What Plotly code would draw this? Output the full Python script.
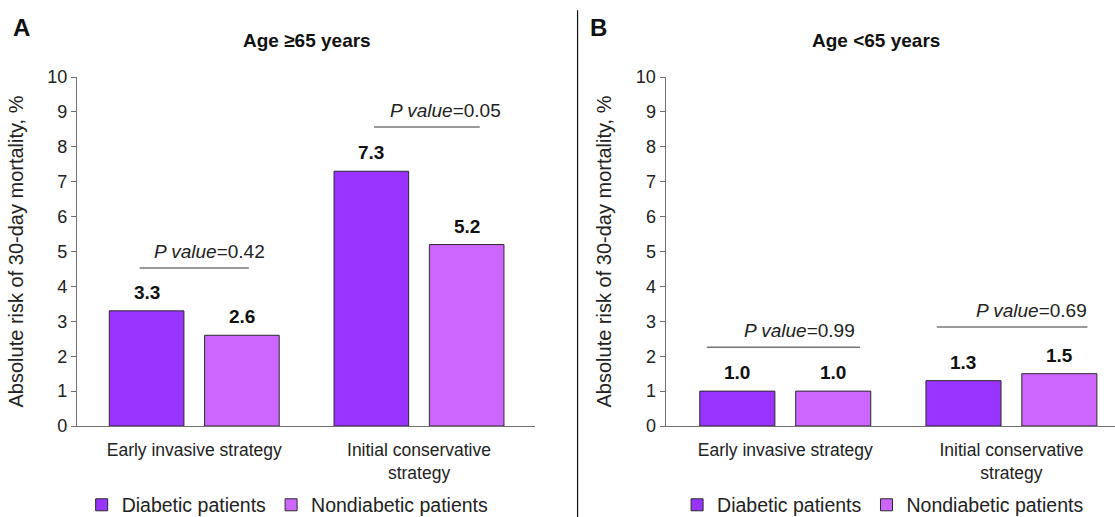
import plotly.graph_objects as go

# Data
categories = ["Early invasive strategy", "Initial conservative<br>strategy"]
series_names = ["Diabetic patients", "Nondiabetic patients"]
age65_plus_diabetic = [3.3, 7.3]
age65_plus_nondiabetic = [2.6, 5.2]
age_under65_diabetic = [1.0, 1.3]
age_under65_nondiabetic = [1.0, 1.5]
p_values_65_plus = ["0.42", "0.05"]
p_values_under65 = ["0.99", "0.69"]
y_ticks = list(range(0, 11))

# Styles
FONT = "Liberation Sans, Arial, sans-serif"
COL_DIAB = "#9933FF"
COL_NONDIAB = "#CC66FF"
EDGE = "#2b2b2b"
AXIS = "#707070"
TXT = "#222"
BAR_W = 0.332
OFF_DIAB = -0.378
OFF_NON = 0.046

fig = go.Figure()

panels = [
    ("", age65_plus_diabetic, age65_plus_nondiabetic, "legend"),
    ("2", age_under65_diabetic, age_under65_nondiabetic, "legend2"),
]
for sfx, diab, nondiab, leg in panels:
    for name, vals, col, off in [
        (series_names[0], diab, COL_DIAB, OFF_DIAB),
        (series_names[1], nondiab, COL_NONDIAB, OFF_NON),
    ]:
        fig.add_trace(go.Bar(
            x=categories, y=vals, name=name, xaxis="x" + sfx, yaxis="y" + sfx,
            width=BAR_W, offset=off,
            marker=dict(color=col, line=dict(color=EDGE, width=1)),
            legend=leg,
        ))
        # value labels above each bar
        for i, v in enumerate(vals):
            fig.add_annotation(
                text=f"<b>{v:.1f}</b>", xref="x" + sfx, yref="y" + sfx,
                x=i + off + BAR_W / 2, y=v, xanchor="center", yanchor="bottom", yshift=6,
                showarrow=False, font=dict(family=FONT, size=19, color="#111"),
            )

yaxis_common = dict(
    range=[0, 10], tickvals=y_ticks, ticks="outside", ticklen=5,
    tickcolor=AXIS, showline=True, linecolor=AXIS, linewidth=1.3,
    showgrid=False, zeroline=False,
    tickfont=dict(family=FONT, size=18, color=TXT),
    title=dict(text="Absolute risk of 30-day mortality, %",
               font=dict(family=FONT, size=20, color=TXT), standoff=18),
)
xaxis_common = dict(
    type="category", showline=True, linecolor=AXIS, linewidth=1.3,
    ticks="", showgrid=False, zeroline=False,
    tickfont=dict(family=FONT, size=17.5, color=TXT),
    ticklabelstandoff=8,
)
legend_common = dict(
    orientation="h", y=0.023, yanchor="middle", xanchor="center",
    font=dict(family=FONT, size=19.5, color=TXT), itemwidth=30,
    bgcolor="rgba(0,0,0,0)",
)

fig.update_layout(
    width=1115, height=517,
    margin=dict(l=0, r=0, t=0, b=0, autoexpand=False),
    paper_bgcolor="white", plot_bgcolor="white",
    showlegend=True,
    xaxis=dict(domain=[0.069, 0.480], range=[-0.522, 1.517], anchor="y", **xaxis_common),
    yaxis=dict(domain=[0.176, 0.851], anchor="x", **yaxis_common),
    xaxis2=dict(domain=[0.597, 1.0], range=[-0.529, 1.458], anchor="y2", **xaxis_common),
    yaxis2=dict(domain=[0.176, 0.851], anchor="x2", **yaxis_common),
    legend=dict(x=0.258, **legend_common),
    legend2=dict(x=0.792, **legend_common),
)

# Panel titles and letters
headers = [
    ("<b>Age ≥65 years</b>", 0.275, 0.922, 19),
    ("<b>Age <65 years</b>", 0.786, 0.922, 19),
    ("<b>A</b>", 0.019, 0.946, 24),
    ("<b>B</b>", 0.537, 0.946, 24),
]
for txt, hx, hy, sz in headers:
    fig.add_annotation(text=txt, x=hx, y=hy, xref="paper", yref="paper",
                       xanchor="center", yanchor="middle", showarrow=False,
                       font=dict(family=FONT, size=sz, color="#111"))

# Divider between panels
fig.add_shape(type="line", xref="paper", yref="paper", x0=0.518, x1=0.518, y0=0.0, y1=0.98,
              line=dict(color="#111", width=1.2))

# P value brackets: (axis suffix, p value, category, line height, line start, line end, text shift)
brackets = [
    ("", p_values_65_plus[0], 0, 4.53, -0.243, 0.243, 0.07),
    ("", p_values_65_plus[1], 1, 8.57, -0.20, 0.27, 0.12),
    ("2", p_values_under65[0], 0, 2.26, -0.347, 0.33, 0.064),
    ("2", p_values_under65[1], 1, 2.84, -0.33, 0.336, 0.09),
]
for sfx, p, ci, h, a, b, tx in brackets:
    fig.add_shape(type="line", xref="x" + sfx, yref="y" + sfx,
                  x0=ci + a, x1=ci + b, y0=h, y1=h,
                  line=dict(color="#777", width=1.5))
    fig.add_annotation(text=f"<i>P value</i>={p}", xref="x" + sfx, yref="y" + sfx,
                       x=ci + tx, y=h, xanchor="center", yanchor="bottom", yshift=4,
                       showarrow=False, font=dict(family=FONT, size=19, color=TXT))

fig.write_html("out.html")
